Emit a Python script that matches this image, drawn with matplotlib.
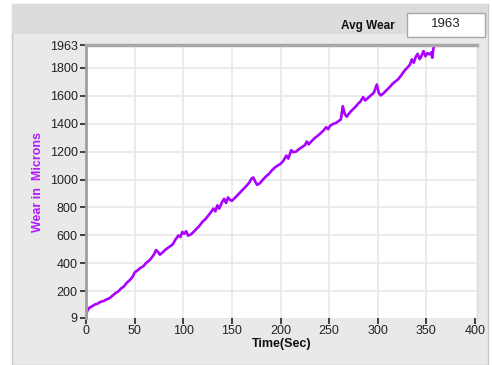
import matplotlib.pyplot as plt
from matplotlib.patches import Rectangle

# wear trace
time_sec = [0, 1, 3, 6, 9, 12, 15, 18, 21, 24, 27, 30, 33, 36, 39, 42, 45, 48, 50, 53, 56,
            59, 62, 65, 68, 70, 72, 74, 76, 79, 82, 86, 89, 92, 95, 97, 99, 101, 103, 105,
            108, 111, 114, 117, 120, 123, 126, 128, 131, 133, 135, 137, 140, 142, 144, 146,
            148, 150, 153, 156, 159, 162, 165, 168, 170, 172, 174, 176, 179, 182, 185, 188,
            191, 194, 197, 200, 203, 206, 208, 211, 213, 216, 219, 222, 225, 227, 229, 232,
            235, 238, 241, 244, 247, 249, 251, 254, 257, 260, 262, 264, 266, 268, 271, 274,
            277, 280, 282, 285, 287, 290, 293, 296, 299, 301, 303, 306, 309, 312, 315, 318,
            321, 324, 327, 330, 333, 335, 337, 339, 341, 343, 345, 347, 349, 351, 353, 355,
            356, 357, 358]
wear = [9, 55, 80, 92, 105, 112, 125, 130, 142, 150, 168, 185, 198, 220, 235, 262, 280, 305, 335, 350, 368,
        380, 405, 420, 445, 465, 495, 482, 462, 480, 500, 520, 535, 570, 600, 588, 625, 612, 630, 598,
        608, 628, 650, 672, 700, 718, 745, 762, 792, 772, 815, 792, 840, 862, 832, 872, 855, 848,
        868, 890, 912, 935, 955, 980, 1005, 1015, 985, 962, 975, 1000, 1022, 1040,
        1065, 1085, 1100, 1112, 1135, 1172, 1150, 1210, 1196, 1200, 1218, 1232, 1246, 1272, 1252, 1275,
        1296, 1312, 1330, 1350, 1375, 1360, 1385, 1398, 1405, 1420, 1430, 1525, 1470, 1450, 1478, 1500,
        1520, 1545, 1558, 1590, 1566, 1585, 1605, 1622, 1680, 1620, 1602, 1618, 1640, 1660, 1684, 1702,
        1718, 1745, 1775, 1798, 1822, 1860, 1836, 1878, 1900, 1862, 1886, 1920, 1882, 1905, 1896, 1910,
        1872, 1930, 1963]

x_ticks = [0, 50, 100, 150, 200, 250, 300, 350, 400]
y_ticks = [9, 200, 400, 600, 800, 1000, 1200, 1400, 1600, 1800, 1963]
avg_wear = "1963"

W, H = 492, 365
fig = plt.figure(figsize=(W / 100, H / 100), dpi=100, facecolor='white')
plt.rcParams['font.family'] = ['Liberation Sans', 'DejaVu Sans']


def px(x0, y0, x1, y1, **kw):
    # rectangle in pixel coords (y from top), kept behind the axes
    r = Rectangle((x0 / W, 1 - y1 / H), (x1 - x0) / W, (y1 - y0) / H,
                  transform=fig.transFigure, zorder=-10, **kw)
    fig.patches.append(r)


px(12, 4, 488, 365, facecolor='#e9e9e9', edgecolor='#c8c8c8', lw=1)
px(12, 4, 488, 34, facecolor='#dcdcdc', edgecolor='none')
px(407, 13, 485, 37, facecolor='white', edgecolor='#a8a8a8', lw=1)
fig.text(395 / W, 1 - 26 / H, "Avg Wear", ha='right', va='center', fontsize=8.5,
         fontweight='bold', color='#111111')
fig.text(446 / W, 1 - 24 / H, avg_wear, ha='center', va='center', fontsize=9.5, color='#222222')

ax = fig.add_axes([86 / W, 1 - 318 / H, (477 - 86) / W, (318 - 45) / H])
ax.set_facecolor('white')
ax.plot(time_sec, wear, color='#aa00ff', lw=1.9)

ax.set_xlim(0, 402)
ax.set_ylim(9, 1963)
ax.set_xticks(x_ticks)
ax.set_yticks(y_ticks)
ax.tick_params(axis='both', labelsize=9, colors='#222222', length=4, width=1.2, pad=2)
ax.tick_params(axis='x', pad=1)
for v in x_ticks[1:-1]:
    ax.axvline(v, color='#e8e8e8', lw=1.2, zorder=0)
for v in y_ticks[1:-1]:
    ax.axhline(v, color='#e8e8e8', lw=1.2, zorder=0)

ax.spines['left'].set_color('#a0a0a0')
ax.spines['left'].set_linewidth(2)
ax.spines['top'].set_color('#a8a8a8')
ax.spines['top'].set_linewidth(2.5)
ax.spines['right'].set_color('#d8d8d8')
ax.spines['right'].set_linewidth(1)
ax.spines['bottom'].set_visible(False)

ax.set_xlabel('Time(Sec)', fontsize=9, fontweight='bold', color='#111111', labelpad=1)
ax.set_ylabel('Wear in  Microns', fontsize=9, fontweight='bold', color='#b31aff', labelpad=4)

fig.savefig('out.png', dpi=100, facecolor=fig.get_facecolor())
